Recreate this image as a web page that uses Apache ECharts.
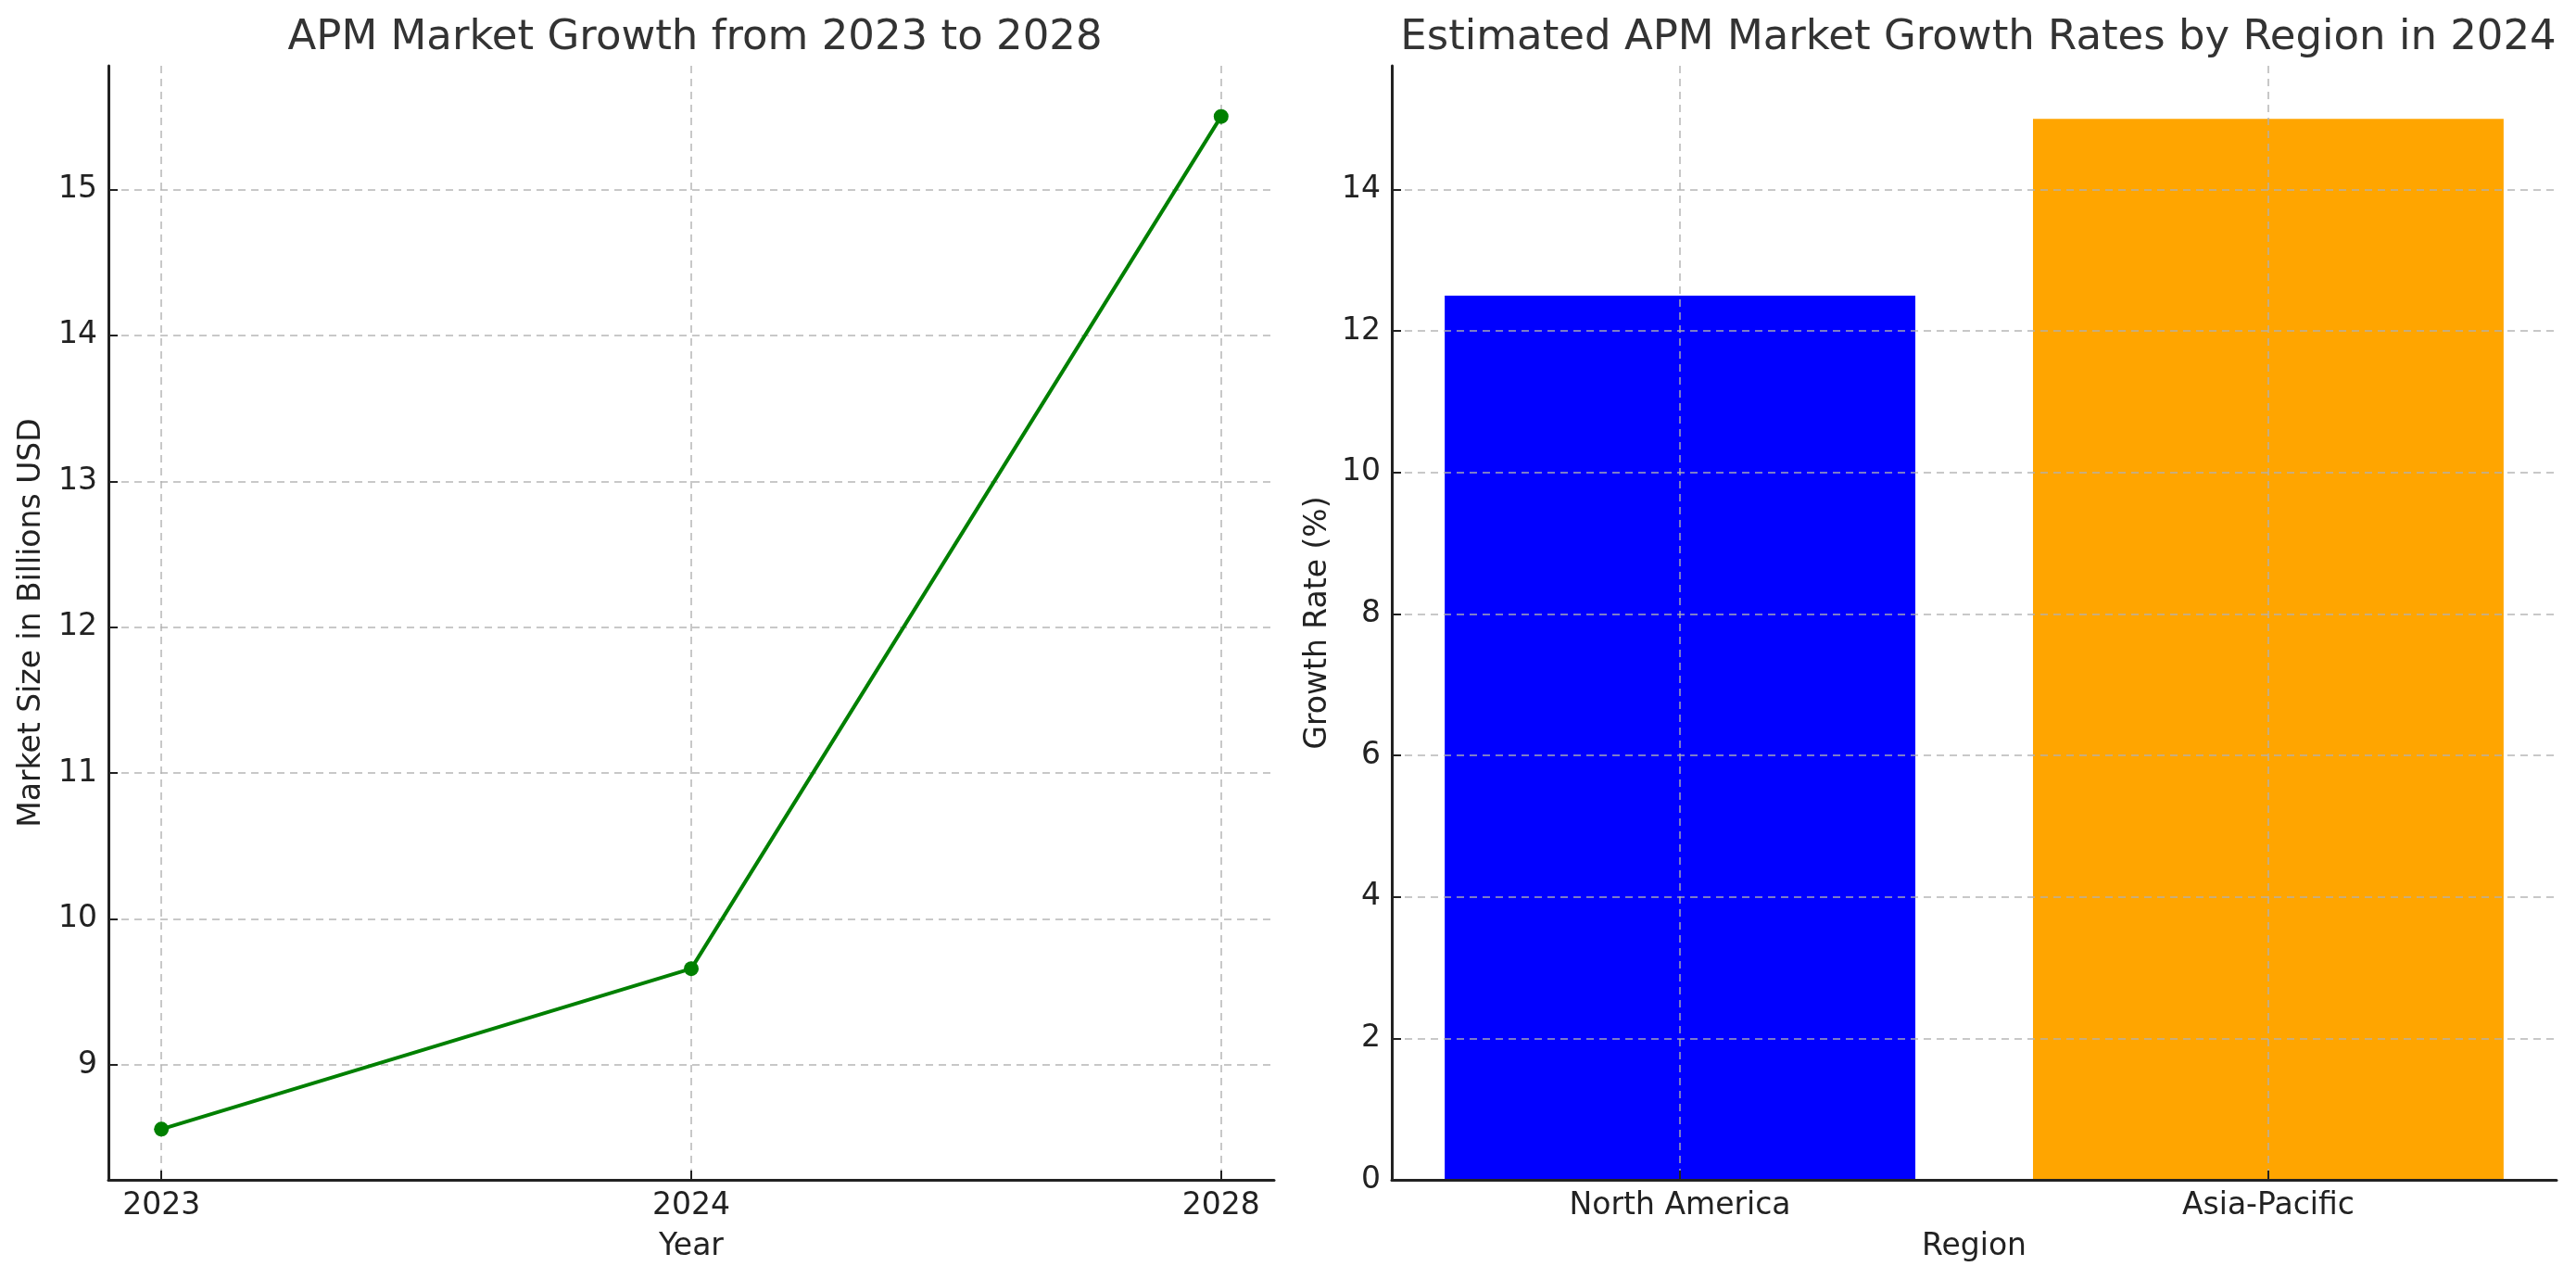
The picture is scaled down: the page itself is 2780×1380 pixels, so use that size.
<!DOCTYPE html>
<html>
<head>
<meta charset="utf-8">
<title>APM Market Growth</title>
<script src="https://cdn.jsdelivr.net/npm/echarts@6/dist/echarts.min.js"></script>
<style>
  html, body { margin: 0; padding: 0; background: #fff; }
  #chart { width: 2780px; height: 1380px; }
</style>
</head>
<body>
<div id="chart"></div>
<script>
// data
const years = ['2023', '2024', '2028'];
const marketSize = [8.56, 9.66, 15.5]; // billions USD
const sizeTicks = [9, 10, 11, 12, 13, 14, 15];

const regions = ['North America', 'Asia-Pacific'];
const growthRate = [12.5, 15]; // %
const rateTicks = [0, 2, 4, 6, 8, 10, 12, 14];
const regionColors = ['#0000ff', '#ffa500'];

const FONT = 'DejaVu Sans';
const TXT = '#222222';

// matplotlib-like 5% padding on the autoscaled axes
const sizeMin = 8.56 - (15.5 - 8.56) * 0.05;
const sizeMax = 15.5 + (15.5 - 8.56) * 0.05;
const rateMax = 15 * 1.05;

const gridLine = {
  show: true,
  lineStyle: { color: 'rgba(176,176,176,0.7)', width: 2, type: [8, 6] }
};
const spine = { show: true, onZero: false, lineStyle: { color: '#222', width: 3 } };
const tick = { show: true, inside: true, length: 10, lineStyle: { color: '#222', width: 2 } };
const label = { color: TXT, fontFamily: FONT, fontSize: 33 };
const nameStyle = { color: TXT, fontFamily: FONT, fontSize: 33 };
const titleStyle = { color: '#333333', fontFamily: FONT, fontSize: 45, fontWeight: 'normal' };

const idx = (arr) => arr.map((_, i) => i);

const chart = echarts.init(document.getElementById('chart'));

chart.setOption({
  backgroundColor: '#ffffff',
  animation: false,
  title: [
    { text: 'APM Market Growth from 2023 to 2028', left: 745, top: 14, textAlign: 'center', textStyle: titleStyle },
    { text: 'Estimated APM Market Growth Rates by Region in 2024', left: 2130, top: 14, textAlign: 'center', textStyle: titleStyle }
  ],
  grid: [
    { left: 117, right: 1405, top: 71, bottom: 107 },
    { left: 1502, right: 21, top: 71, bottom: 107 }
  ],
  xAxis: [
    {
      gridIndex: 0, type: 'value', min: -0.1, max: 2.1,
      name: 'Year', nameLocation: 'middle', nameGap: 56, nameTextStyle: nameStyle,
      axisLine: spine, axisTick: Object.assign({ customValues: idx(years) }, tick),
      axisLabel: Object.assign({ customValues: idx(years), margin: 12, formatter: (v) => years[v] }, label),
      splitLine: gridLine
    },
    {
      gridIndex: 1, type: 'value', min: -0.49, max: 1.49, z: 5,
      name: 'Region', nameLocation: 'middle', nameGap: 56, nameTextStyle: nameStyle,
      axisLine: spine, axisTick: Object.assign({ customValues: idx(regions) }, tick),
      axisLabel: Object.assign({ customValues: idx(regions), margin: 12, formatter: (v) => regions[v] }, label),
      splitLine: gridLine
    }
  ],
  yAxis: [
    {
      gridIndex: 0, type: 'value', min: sizeMin, max: sizeMax,
      name: 'Market Size in Billions USD', nameLocation: 'middle', nameGap: 66, nameTextStyle: nameStyle,
      axisLine: spine, axisTick: Object.assign({ customValues: sizeTicks }, tick),
      axisLabel: Object.assign({ customValues: sizeTicks, margin: 12 }, label),
      splitLine: gridLine
    },
    {
      gridIndex: 1, type: 'value', min: 0, max: rateMax, z: 5,
      name: 'Growth Rate (%)', nameLocation: 'middle', nameGap: 63, nameTextStyle: nameStyle,
      axisLine: spine, axisTick: Object.assign({ customValues: rateTicks }, tick),
      axisLabel: Object.assign({ customValues: rateTicks, margin: 12 }, label),
      splitLine: gridLine
    }
  ],
  series: [
    {
      type: 'line', xAxisIndex: 0, yAxisIndex: 0,
      data: marketSize.map((v, i) => [i, v]),
      symbol: 'circle', symbolSize: 16,
      lineStyle: { color: '#008000', width: 4 },
      itemStyle: { color: '#008000' }
    },
    {
      type: 'bar', xAxisIndex: 1, yAxisIndex: 1,
      barWidth: '80%',
      data: growthRate.map((v, i) => ({ value: [i, v], itemStyle: { color: regionColors[i] } }))
    }
  ]
});
</script>
</body>
</html>
